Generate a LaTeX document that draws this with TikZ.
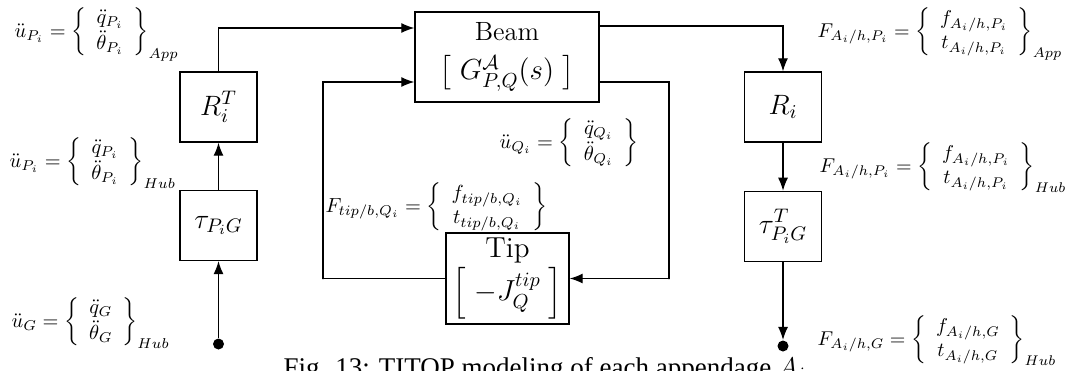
\RequirePackage{fix-cm}
\documentclass[tikz,border=0pt]{standalone}
\usepackage{amsmath}
\usepackage{fontspec}
\usetikzlibrary{arrows.meta, positioning}
\newfontfamily\captionfont{Liberation Serif}

\begin{document}
\begin{tikzpicture}[
    x=0.5pt, y=-0.5pt,
    line width=0.6pt,
    block/.style={rectangle, draw=black, line width=0.7pt, minimum width=38.5pt, minimum height=35pt, inner sep=1pt, text centered, font=\fontsize{14}{16}\selectfont},
    bigblock/.style={rectangle, draw=black, line width=0.7pt, align=center, inner sep=1pt},
    lbl/.style={anchor=base west, inner sep=0pt, font=\fontsize{10.2}{12}\selectfont},
    dot/.style={circle, fill=black, inner sep=0pt, minimum size=5.5pt},
    arrow/.style={-{Latex[length=6.5pt,width=5pt]}}
]
    \useasboundingbox (0,0) rectangle (1068,370);

    % left column
    \node[block] (RT) at (218.5,107) {$R_i^T$};
    \node[block, below=23.5pt of RT] (tauG) {$\tau_{P_iG}$};
    \node[dot] (uin) at (218.5,344) {};

    % beam and tip
    \node[bigblock, minimum width=92pt, minimum height=45pt, font=\fontsize{14.5}{19.5}\selectfont] (beam) at (507,57)
        {{\fontsize{13.2}{15}\selectfont Beam}\\$\left[\;G^{\mathcal{A}}_{P,Q}(s)\;\right]$};
    \node[bigblock, minimum width=61.5pt, minimum height=45.5pt, font=\fontsize{14.5}{21.5}\selectfont] (tip) at (507.5,278.5)
        {Tip\\$\left[\;-J_Q^{tip}\;\right]$};

    % right column
    \node[block] (Ri) at (783,107) {$R_i$};
    \node[block, below=24pt of Ri] (tauT) {$\tau_{P_iG}^T$};
    \node[dot] (Fout) at (783,346) {};

    \coordinate (loopL) at (323,279);
    \coordinate (loopR) at (669,279);

    % labels
    \node[lbl] (uApp) at (14,37) {$\ddot{u}_{P_i} = \left\{ \begin{array}{c} \ddot{q}_{P_i} \\ \ddot{\theta}_{P_i} \end{array} \right\}_{App}$};
    \node[lbl] (uHub) at (9,167) {$\ddot{u}_{P_i} = \left\{ \begin{array}{c} \ddot{q}_{P_i} \\ \ddot{\theta}_{P_i} \end{array} \right\}_{Hub}$};
    \node[lbl] (uG) at (11,327) {$\ddot{u}_{G} = \left\{ \begin{array}{c} \ddot{q}_{G} \\ \ddot{\theta}_{G} \end{array} \right\}_{Hub}$};
    \node[lbl] (uQ) at (499,148) {$\ddot{u}_{Q_i} = \left\{ \begin{array}{c} \ddot{q}_{Q_i} \\ \ddot{\theta}_{Q_i} \end{array} \right\}$};
    \node[lbl] (Ftip) at (325,212) {$F_{tip/b,Q_i} = \left\{ \begin{array}{c} f_{tip/b,Q_i} \\ t_{tip/b,Q_i} \end{array} \right\}$};
    \node[lbl, font=\fontsize{10}{12}\selectfont] (FApp) at (817,37) {$F_{A_i/h,P_i} = \left\{ \begin{array}{c} f_{A_i/h,P_i} \\ t_{A_i/h,P_i} \end{array} \right\}_{App}$};
    \node[lbl, font=\fontsize{10}{12}\selectfont] (FHub) at (819,172) {$F_{A_i/h,P_i} = \left\{ \begin{array}{c} f_{A_i/h,P_i} \\ t_{A_i/h,P_i} \end{array} \right\}_{Hub}$};
    \node[lbl, font=\fontsize{10}{12}\selectfont] (FG) at (817,345) {$F_{A_i/h,G} = \left\{ \begin{array}{c} f_{A_i/h,G} \\ t_{A_i/h,G} \end{array} \right\}_{Hub}$};

    \node[anchor=base west, inner sep=0pt, font=\captionfont\fontsize{13.5}{16}\selectfont] (caption) at (283,376) {Fig. 13: TITOP modeling of each appendage $A_i$};

    % connections
    \draw[arrow] (uin) -- (tauG);
    \draw[arrow] (tauG) -- (RT);
    \draw[arrow] (RT.north) |- ([yshift=14.5pt]beam.west);
    \draw[arrow] (tip.west) -| (loopL) |- ([yshift=-12.5pt]beam.west);
    \draw[arrow] ([yshift=15.5pt]beam.east) -| (Ri.north);
    \draw[arrow] ([yshift=-12.5pt]beam.east) -| (loopR) |- (tip.east);
    \draw[arrow] (Ri) -- (tauT);
    \draw[arrow] (tauT) -- (Fout);

\end{tikzpicture}
\end{document}
